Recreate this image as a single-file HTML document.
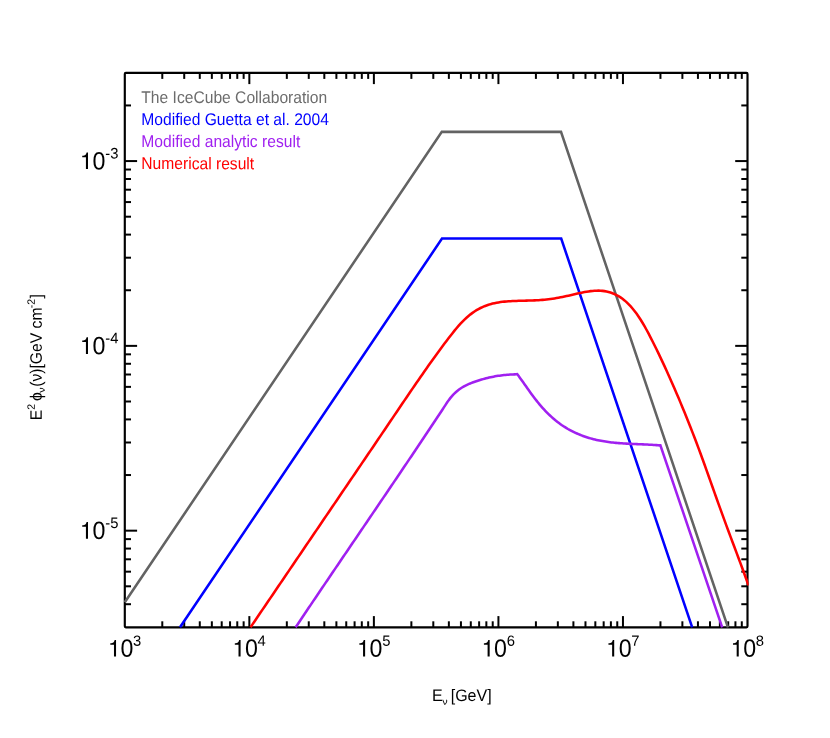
<!DOCTYPE html>
<html><head><meta charset="utf-8"><title>plot</title>
<style>
html,body{margin:0;padding:0;background:#fff;}
body{width:830px;height:738px;overflow:hidden;font-family:"Liberation Sans",sans-serif;}
svg{display:block;text-rendering:geometricPrecision;will-change:transform;opacity:0.999;font-family:"Liberation Sans",sans-serif;}
</style></head><body>
<svg width="830" height="738" viewBox="0 0 830 738">
<rect width="830" height="738" fill="#fff"/>
<defs><clipPath id="c"><rect x="123.70" y="72.90" width="624.90" height="555.50"/></clipPath></defs>
<g fill="none" stroke="#000" stroke-width="2.15" stroke-linecap="butt" stroke-linejoin="round">
<rect x="124.80" y="72.90" width="622.70" height="554.40" rx="1" ry="1"/>
<g stroke-width="2.0"><path d="M162.29 627.30L162.29 621.30"/><path d="M162.29 72.90L162.29 78.90"/><path d="M184.22 627.30L184.22 621.30"/><path d="M184.22 72.90L184.22 78.90"/><path d="M199.78 627.30L199.78 621.30"/><path d="M199.78 72.90L199.78 78.90"/><path d="M211.85 627.30L211.85 621.30"/><path d="M211.85 72.90L211.85 78.90"/><path d="M221.71 627.30L221.71 621.30"/><path d="M221.71 72.90L221.71 78.90"/><path d="M230.05 627.30L230.05 621.30"/><path d="M230.05 72.90L230.05 78.90"/><path d="M237.27 627.30L237.27 621.30"/><path d="M237.27 72.90L237.27 78.90"/><path d="M243.64 627.30L243.64 621.30"/><path d="M243.64 72.90L243.64 78.90"/><path d="M249.34 627.30L249.34 616.10"/><path d="M249.34 72.90L249.34 84.10"/><path d="M286.83 627.30L286.83 621.30"/><path d="M286.83 72.90L286.83 78.90"/><path d="M308.76 627.30L308.76 621.30"/><path d="M308.76 72.90L308.76 78.90"/><path d="M324.32 627.30L324.32 621.30"/><path d="M324.32 72.90L324.32 78.90"/><path d="M336.39 627.30L336.39 621.30"/><path d="M336.39 72.90L336.39 78.90"/><path d="M346.25 627.30L346.25 621.30"/><path d="M346.25 72.90L346.25 78.90"/><path d="M354.59 627.30L354.59 621.30"/><path d="M354.59 72.90L354.59 78.90"/><path d="M361.81 627.30L361.81 621.30"/><path d="M361.81 72.90L361.81 78.90"/><path d="M368.18 627.30L368.18 621.30"/><path d="M368.18 72.90L368.18 78.90"/><path d="M373.88 627.30L373.88 616.10"/><path d="M373.88 72.90L373.88 84.10"/><path d="M411.37 627.30L411.37 621.30"/><path d="M411.37 72.90L411.37 78.90"/><path d="M433.30 627.30L433.30 621.30"/><path d="M433.30 72.90L433.30 78.90"/><path d="M448.86 627.30L448.86 621.30"/><path d="M448.86 72.90L448.86 78.90"/><path d="M460.93 627.30L460.93 621.30"/><path d="M460.93 72.90L460.93 78.90"/><path d="M470.79 627.30L470.79 621.30"/><path d="M470.79 72.90L470.79 78.90"/><path d="M479.13 627.30L479.13 621.30"/><path d="M479.13 72.90L479.13 78.90"/><path d="M486.35 627.30L486.35 621.30"/><path d="M486.35 72.90L486.35 78.90"/><path d="M492.72 627.30L492.72 621.30"/><path d="M492.72 72.90L492.72 78.90"/><path d="M498.42 627.30L498.42 616.10"/><path d="M498.42 72.90L498.42 84.10"/><path d="M535.91 627.30L535.91 621.30"/><path d="M535.91 72.90L535.91 78.90"/><path d="M557.84 627.30L557.84 621.30"/><path d="M557.84 72.90L557.84 78.90"/><path d="M573.40 627.30L573.40 621.30"/><path d="M573.40 72.90L573.40 78.90"/><path d="M585.47 627.30L585.47 621.30"/><path d="M585.47 72.90L585.47 78.90"/><path d="M595.33 627.30L595.33 621.30"/><path d="M595.33 72.90L595.33 78.90"/><path d="M603.67 627.30L603.67 621.30"/><path d="M603.67 72.90L603.67 78.90"/><path d="M610.89 627.30L610.89 621.30"/><path d="M610.89 72.90L610.89 78.90"/><path d="M617.26 627.30L617.26 621.30"/><path d="M617.26 72.90L617.26 78.90"/><path d="M622.96 627.30L622.96 616.10"/><path d="M622.96 72.90L622.96 84.10"/><path d="M660.45 627.30L660.45 621.30"/><path d="M660.45 72.90L660.45 78.90"/><path d="M682.38 627.30L682.38 621.30"/><path d="M682.38 72.90L682.38 78.90"/><path d="M697.94 627.30L697.94 621.30"/><path d="M697.94 72.90L697.94 78.90"/><path d="M710.01 627.30L710.01 621.30"/><path d="M710.01 72.90L710.01 78.90"/><path d="M719.87 627.30L719.87 621.30"/><path d="M719.87 72.90L719.87 78.90"/><path d="M728.21 627.30L728.21 621.30"/><path d="M728.21 72.90L728.21 78.90"/><path d="M735.43 627.30L735.43 621.30"/><path d="M735.43 72.90L735.43 78.90"/><path d="M741.80 627.30L741.80 621.30"/><path d="M741.80 72.90L741.80 78.90"/><path d="M124.80 604.21L131.00 604.21"/><path d="M747.50 604.21L741.30 604.21"/><path d="M124.80 586.30L131.00 586.30"/><path d="M747.50 586.30L741.30 586.30"/><path d="M124.80 571.67L131.00 571.67"/><path d="M747.50 571.67L741.30 571.67"/><path d="M124.80 559.30L131.00 559.30"/><path d="M747.50 559.30L741.30 559.30"/><path d="M124.80 548.58L131.00 548.58"/><path d="M747.50 548.58L741.30 548.58"/><path d="M124.80 539.13L131.00 539.13"/><path d="M747.50 539.13L741.30 539.13"/><path d="M124.80 530.67L137.10 530.67"/><path d="M747.50 530.67L735.20 530.67"/><path d="M124.80 475.04L131.00 475.04"/><path d="M747.50 475.04L741.30 475.04"/><path d="M124.80 442.50L131.00 442.50"/><path d="M747.50 442.50L741.30 442.50"/><path d="M124.80 419.41L131.00 419.41"/><path d="M747.50 419.41L741.30 419.41"/><path d="M124.80 401.50L131.00 401.50"/><path d="M747.50 401.50L741.30 401.50"/><path d="M124.80 386.87L131.00 386.87"/><path d="M747.50 386.87L741.30 386.87"/><path d="M124.80 374.50L131.00 374.50"/><path d="M747.50 374.50L741.30 374.50"/><path d="M124.80 363.78L131.00 363.78"/><path d="M747.50 363.78L741.30 363.78"/><path d="M124.80 354.33L131.00 354.33"/><path d="M747.50 354.33L741.30 354.33"/><path d="M124.80 345.87L137.10 345.87"/><path d="M747.50 345.87L735.20 345.87"/><path d="M124.80 290.24L131.00 290.24"/><path d="M747.50 290.24L741.30 290.24"/><path d="M124.80 257.70L131.00 257.70"/><path d="M747.50 257.70L741.30 257.70"/><path d="M124.80 234.61L131.00 234.61"/><path d="M747.50 234.61L741.30 234.61"/><path d="M124.80 216.70L131.00 216.70"/><path d="M747.50 216.70L741.30 216.70"/><path d="M124.80 202.07L131.00 202.07"/><path d="M747.50 202.07L741.30 202.07"/><path d="M124.80 189.70L131.00 189.70"/><path d="M747.50 189.70L741.30 189.70"/><path d="M124.80 178.98L131.00 178.98"/><path d="M747.50 178.98L741.30 178.98"/><path d="M124.80 169.53L131.00 169.53"/><path d="M747.50 169.53L741.30 169.53"/><path d="M124.80 161.07L137.10 161.07"/><path d="M747.50 161.07L735.20 161.07"/><path d="M124.80 105.44L131.00 105.44"/><path d="M747.50 105.44L741.30 105.44"/></g>
</g>
<g fill="none" stroke-width="2.55" stroke-linejoin="miter" stroke-linecap="butt" clip-path="url(#c)">
<polyline stroke="#636363" points="124.80,602.23 441.80,131.85 561.00,131.85 727.95,627.30"/>
<polyline stroke="#0000ff" points="180.01,627.30 442.00,238.55 561.20,238.55 692.19,627.30"/>
<polyline stroke="#a020f0" points="295.55,627.30 297.05,625.16 298.55,622.93 300.05,620.70 301.55,618.46 303.05,616.23 304.55,614.00 306.05,611.77 307.55,609.55 309.05,607.32 310.55,605.10 312.05,602.87 313.55,600.65 315.05,598.42 316.55,596.20 318.05,593.98 319.55,591.76 321.05,589.54 322.55,587.33 324.05,585.11 325.55,582.89 327.05,580.68 328.55,578.46 330.05,576.25 331.55,574.03 333.05,571.82 334.55,569.60 336.05,567.39 337.55,565.18 339.05,562.97 340.55,560.76 342.05,558.55 343.55,556.34 345.05,554.13 346.55,551.92 348.05,549.71 349.55,547.50 351.05,545.29 352.55,543.08 354.05,540.87 355.55,538.66 357.05,536.45 358.55,534.24 360.05,532.03 361.55,529.82 363.05,527.61 364.55,525.40 366.05,523.19 367.55,520.98 369.05,518.77 370.55,516.56 372.05,514.35 373.55,512.14 375.05,509.93 376.55,507.72 378.05,505.51 379.55,503.29 381.05,501.08 382.55,498.87 384.05,496.65 385.55,494.44 387.05,492.22 388.55,490.01 390.05,487.79 391.55,485.57 393.05,483.36 394.55,481.14 396.05,478.92 397.55,476.70 399.05,474.47 400.55,472.25 402.05,470.03 403.55,467.80 405.05,465.58 406.55,463.35 408.05,461.13 409.55,458.90 411.05,456.67 412.55,454.44 414.05,452.20 415.55,449.97 417.05,447.74 418.55,445.50 420.05,443.26 421.55,441.03 423.05,438.79 424.55,436.54 426.05,434.30 427.55,432.06 429.05,429.81 430.55,427.56 432.05,425.31 433.55,423.06 435.05,420.81 436.55,418.54 438.05,416.28 439.55,414.00 441.05,411.72 442.55,409.43 444.05,407.13 445.55,404.82 447.05,402.55 448.55,400.39 450.05,398.40 451.55,396.58 453.05,394.92 454.55,393.40 456.05,392.00 457.55,390.72 459.05,389.55 460.55,388.48 462.05,387.50 463.55,386.61 465.05,385.79 466.55,385.04 468.05,384.34 469.55,383.70 471.05,383.10 472.55,382.53 474.05,381.98 475.55,381.46 477.05,380.95 478.55,380.47 480.05,380.00 481.55,379.55 483.05,379.12 484.55,378.71 486.05,378.32 487.55,377.95 489.05,377.59 490.55,377.26 492.05,376.94 493.55,376.64 495.05,376.37 496.55,376.10 498.05,375.86 499.55,375.64 501.05,375.43 502.55,375.24 504.05,375.07 505.55,374.91 507.05,374.78 508.55,374.66 510.05,374.56 511.55,374.47 513.05,374.41 514.55,374.36 516.05,374.33 517.20,374.20 518.50,375.82 520.00,377.88 521.50,379.97 523.00,382.09 524.50,384.21 526.00,386.34 527.50,388.46 529.00,390.57 530.50,392.66 532.00,394.71 533.50,396.72 535.00,398.70 536.50,400.62 538.00,402.50 539.50,404.32 541.00,406.08 542.50,407.79 544.00,409.45 545.50,411.05 547.00,412.59 548.50,414.08 550.00,415.52 551.50,416.91 553.00,418.24 554.50,419.52 556.00,420.76 557.50,421.94 559.00,423.08 560.50,424.17 562.00,425.22 563.50,426.22 565.00,427.18 566.50,428.10 568.00,428.99 569.50,429.83 571.00,430.64 572.50,431.41 574.00,432.15 575.50,432.86 577.00,433.53 578.50,434.17 580.00,434.79 581.50,435.38 583.00,435.94 584.50,436.47 586.00,436.98 587.50,437.47 589.00,437.93 590.50,438.36 592.00,438.78 593.50,439.17 595.00,439.54 596.50,439.89 598.00,440.22 599.50,440.53 601.00,440.82 602.50,441.09 604.00,441.35 605.50,441.59 607.00,441.81 608.50,442.02 610.00,442.22 611.50,442.40 613.00,442.57 614.50,442.73 616.00,442.87 617.50,443.01 619.00,443.13 620.50,443.25 622.00,443.35 623.50,443.45 625.00,443.55 626.50,443.63 628.00,443.71 629.50,443.79 631.00,443.86 632.50,443.93 634.00,443.99 635.50,444.06 637.00,444.12 638.50,444.18 640.00,444.24 641.50,444.30 643.00,444.36 644.50,444.43 646.00,444.50 647.50,444.57 649.00,444.65 650.50,444.73 652.00,444.82 653.50,444.91 655.00,445.01 656.50,445.12 658.00,445.24 659.50,445.36 660.40,445.30 722.18,627.30"/>
<polyline stroke="#ff0000" points="250.50,627.30 252.50,624.35 254.50,621.41 256.50,618.47 258.50,615.52 260.50,612.58 262.50,609.63 264.50,606.69 266.50,603.74 268.50,600.80 270.50,597.85 272.50,594.91 274.50,591.96 276.50,589.02 278.50,586.07 280.50,583.13 282.50,580.18 284.50,577.24 286.50,574.29 288.50,571.35 290.50,568.40 292.50,565.45 294.50,562.51 296.50,559.56 298.50,556.62 300.50,553.67 302.50,550.73 304.50,547.78 306.50,544.84 308.50,541.89 310.50,538.94 312.50,536.00 314.50,533.05 316.50,530.11 318.50,527.16 320.50,524.22 322.50,521.27 324.50,518.33 326.50,515.39 328.50,512.44 330.50,509.50 332.50,506.55 334.50,503.61 336.50,500.67 338.50,497.72 340.50,494.78 342.50,491.84 344.50,488.89 346.50,485.95 348.50,483.01 350.50,480.07 352.50,477.12 354.50,474.18 356.50,471.24 358.50,468.29 360.50,465.35 362.50,462.40 364.50,459.46 366.50,456.51 368.50,453.56 370.50,450.62 372.50,447.67 374.50,444.72 376.50,441.77 378.50,438.82 380.50,435.87 382.50,432.91 384.50,429.96 386.50,427.00 388.50,424.04 390.50,421.08 392.50,418.12 394.50,415.16 396.50,412.20 398.50,409.24 400.50,406.28 402.50,403.33 404.50,400.38 406.50,397.43 408.50,394.49 410.50,391.56 412.50,388.63 414.50,385.71 416.50,382.81 418.50,379.91 420.50,377.02 422.50,374.15 424.50,371.28 426.50,368.44 428.50,365.60 430.50,362.79 432.50,359.99 434.50,357.20 436.50,354.44 438.50,351.69 440.50,348.97 442.50,346.27 444.50,343.59 446.50,340.94 448.50,338.32 450.50,335.73 452.50,333.17 454.50,330.66 456.50,328.22 458.50,325.88 460.50,323.66 462.50,321.56 464.50,319.58 466.50,317.72 468.50,315.98 470.50,314.36 472.50,312.86 474.50,311.48 476.50,310.21 478.50,309.06 480.50,308.01 482.50,307.06 484.50,306.20 486.50,305.44 488.50,304.75 490.50,304.15 492.50,303.61 494.50,303.15 496.50,302.74 498.50,302.39 500.50,302.10 502.50,301.84 504.50,301.63 506.50,301.45 508.50,301.30 510.50,301.18 512.50,301.07 514.50,300.98 516.50,300.91 518.50,300.84 520.50,300.78 522.50,300.73 524.50,300.69 526.50,300.64 528.50,300.58 530.50,300.53 532.50,300.46 534.50,300.38 536.50,300.29 538.50,300.18 540.50,300.05 542.50,299.89 544.50,299.72 546.50,299.51 548.50,299.27 550.50,299.01 552.50,298.71 554.50,298.40 556.50,298.06 558.50,297.70 560.50,297.32 562.50,296.93 564.50,296.51 566.50,296.09 568.50,295.65 570.50,295.19 572.50,294.73 574.50,294.26 576.50,293.80 578.50,293.34 580.50,292.89 582.50,292.47 584.50,292.07 586.50,291.71 588.50,291.39 590.50,291.12 592.50,290.90 594.50,290.75 596.50,290.66 598.50,290.65 600.50,290.72 602.50,290.88 604.50,291.13 606.50,291.49 608.50,291.95 610.50,292.53 612.50,293.24 614.50,294.07 616.50,295.04 618.50,296.15 620.50,297.41 622.50,298.82 624.50,300.40 626.50,302.15 628.50,304.07 630.50,306.17 632.50,308.45 634.50,310.92 636.50,313.58 638.50,316.45 640.50,319.51 642.50,322.75 644.50,326.17 646.50,329.75 648.50,333.47 650.50,337.31 652.50,341.24 654.50,345.25 656.50,349.31 658.50,353.43 660.50,357.62 662.50,361.86 664.50,366.15 666.50,370.51 668.50,374.93 670.50,379.40 672.50,383.93 674.50,388.52 676.50,393.16 678.50,397.87 680.50,402.62 682.50,407.44 684.50,412.31 686.50,417.24 688.50,422.23 690.50,427.28 692.50,432.40 694.50,437.58 696.50,442.82 698.50,448.14 700.50,453.52 702.50,458.98 704.50,464.51 706.50,470.08 708.50,475.70 710.50,481.33 712.50,486.97 714.50,492.61 716.50,498.22 718.50,503.81 720.50,509.37 722.50,514.90 724.50,520.38 726.50,525.83 728.50,531.23 730.50,536.60 732.50,541.95 734.50,547.29 736.50,552.64 738.50,558.00 740.50,563.38 742.50,568.80 744.50,574.26 746.50,579.79 748.50,585.38"/>
</g>
<g fill="#000"><path transform="translate(107.89 656.60) scale(23.500 23.500)" d="M.259 -.505L.259 0L.347 0L.347 -.709L.289 -.709C.258 -.600 .238 -.585 .102 -.568L.102 -.505Z"/><text transform="translate(120.49 656.70) rotate(0.03) scale(1 1.075)" font-size="23.20">0</text><text transform="translate(133.08 645.80) rotate(0.03) scale(1 1.000)" font-size="14.80">3</text><path transform="translate(232.43 656.60) scale(23.500 23.500)" d="M.259 -.505L.259 0L.347 0L.347 -.709L.289 -.709C.258 -.600 .238 -.585 .102 -.568L.102 -.505Z"/><text transform="translate(245.03 656.70) rotate(0.03) scale(1 1.075)" font-size="23.20">0</text><text transform="translate(257.62 645.80) rotate(0.03) scale(1 1.000)" font-size="14.80">4</text><path transform="translate(356.97 656.60) scale(23.500 23.500)" d="M.259 -.505L.259 0L.347 0L.347 -.709L.289 -.709C.258 -.600 .238 -.585 .102 -.568L.102 -.505Z"/><text transform="translate(369.57 656.70) rotate(0.03) scale(1 1.075)" font-size="23.20">0</text><text transform="translate(382.16 645.80) rotate(0.03) scale(1 1.000)" font-size="14.80">5</text><path transform="translate(481.51 656.60) scale(23.500 23.500)" d="M.259 -.505L.259 0L.347 0L.347 -.709L.289 -.709C.258 -.600 .238 -.585 .102 -.568L.102 -.505Z"/><text transform="translate(494.11 656.70) rotate(0.03) scale(1 1.075)" font-size="23.20">0</text><text transform="translate(506.70 645.80) rotate(0.03) scale(1 1.000)" font-size="14.80">6</text><path transform="translate(606.05 656.60) scale(23.500 23.500)" d="M.259 -.505L.259 0L.347 0L.347 -.709L.289 -.709C.258 -.600 .238 -.585 .102 -.568L.102 -.505Z"/><text transform="translate(618.65 656.70) rotate(0.03) scale(1 1.075)" font-size="23.20">0</text><text transform="translate(631.24 645.80) rotate(0.03) scale(1 1.000)" font-size="14.80">7</text><path transform="translate(730.59 656.60) scale(23.500 23.500)" d="M.259 -.505L.259 0L.347 0L.347 -.709L.289 -.709C.258 -.600 .238 -.585 .102 -.568L.102 -.505Z"/><text transform="translate(743.19 656.70) rotate(0.03) scale(1 1.075)" font-size="23.20">0</text><text transform="translate(755.78 645.80) rotate(0.03) scale(1 1.000)" font-size="14.80">8</text><path transform="translate(79.84 169.12) scale(23.500 23.500)" d="M.259 -.505L.259 0L.347 0L.347 -.709L.289 -.709C.258 -.600 .238 -.585 .102 -.568L.102 -.505Z"/><text transform="translate(92.44 169.47) rotate(0.03) scale(1 1.075)" font-size="23.20">0</text><text transform="translate(105.34 158.42) rotate(0.03) scale(1 1.030)" font-size="14.80">-3</text><path transform="translate(79.84 353.92) scale(23.500 23.500)" d="M.259 -.505L.259 0L.347 0L.347 -.709L.289 -.709C.258 -.600 .238 -.585 .102 -.568L.102 -.505Z"/><text transform="translate(92.44 354.27) rotate(0.03) scale(1 1.075)" font-size="23.20">0</text><text transform="translate(105.34 343.22) rotate(0.03) scale(1 1.030)" font-size="14.80">-4</text><path transform="translate(79.84 538.72) scale(23.500 23.500)" d="M.259 -.505L.259 0L.347 0L.347 -.709L.289 -.709C.258 -.600 .238 -.585 .102 -.568L.102 -.505Z"/><text transform="translate(92.44 539.07) rotate(0.03) scale(1 1.075)" font-size="23.20">0</text><text transform="translate(105.34 528.02) rotate(0.03) scale(1 1.030)" font-size="14.80">-5</text></g>
<text transform="translate(141.30 102.95) rotate(0.03) scale(1 1.085)" font-size="15.63" fill="#6c6c6c">The IceCube Collaboration</text><text transform="translate(141.30 125.00) rotate(0.03) scale(1 1.085)" font-size="15.63" fill="#0000ff">Modified Guetta et al. 2004</text><text transform="translate(141.30 147.05) rotate(0.03) scale(1 1.085)" font-size="15.63" fill="#a020f0">Modified analytic result</text><text transform="translate(141.30 169.10) rotate(0.03) scale(1 1.085)" font-size="15.63" fill="#ff0000">Numerical result</text>
<g fill="#000">
<text transform="translate(431.90 701.00) rotate(0.03) scale(1 1.040)" font-size="16.00">E</text><text transform="translate(442.30 704.70) rotate(0.03) scale(1 0.860)" font-size="10.80">&#957;</text><text transform="translate(450.70 701.00) rotate(0.03) scale(1 1.040)" font-size="16.00">[GeV]</text>
<g transform="translate(41.65,420.2) rotate(-90)">
<text transform="translate(0.00 0.00) rotate(0.03) scale(1 1.057)" font-size="15.70">E</text><text transform="translate(10.50 -6.95) rotate(0.03) scale(1 1.000)" font-size="10.60">2</text><text transform="translate(19.10 0.00) rotate(0.03) scale(1 1.057)" font-size="15.70">&#981;</text><text transform="translate(27.40 3.20) rotate(0.03) scale(1 0.860)" font-size="10.80">&#957;</text><text transform="translate(33.40 0.00) rotate(0.03) scale(1 1.057)" font-size="15.70">(&#957;)[GeV cm</text><text transform="translate(112.00 -6.95) rotate(0.03) scale(1 1.000)" font-size="10.60">-2</text><text transform="translate(121.80 0.00) rotate(0.03) scale(1 1.057)" font-size="15.70">]</text>
</g>
</g>
</svg>
</body></html>
